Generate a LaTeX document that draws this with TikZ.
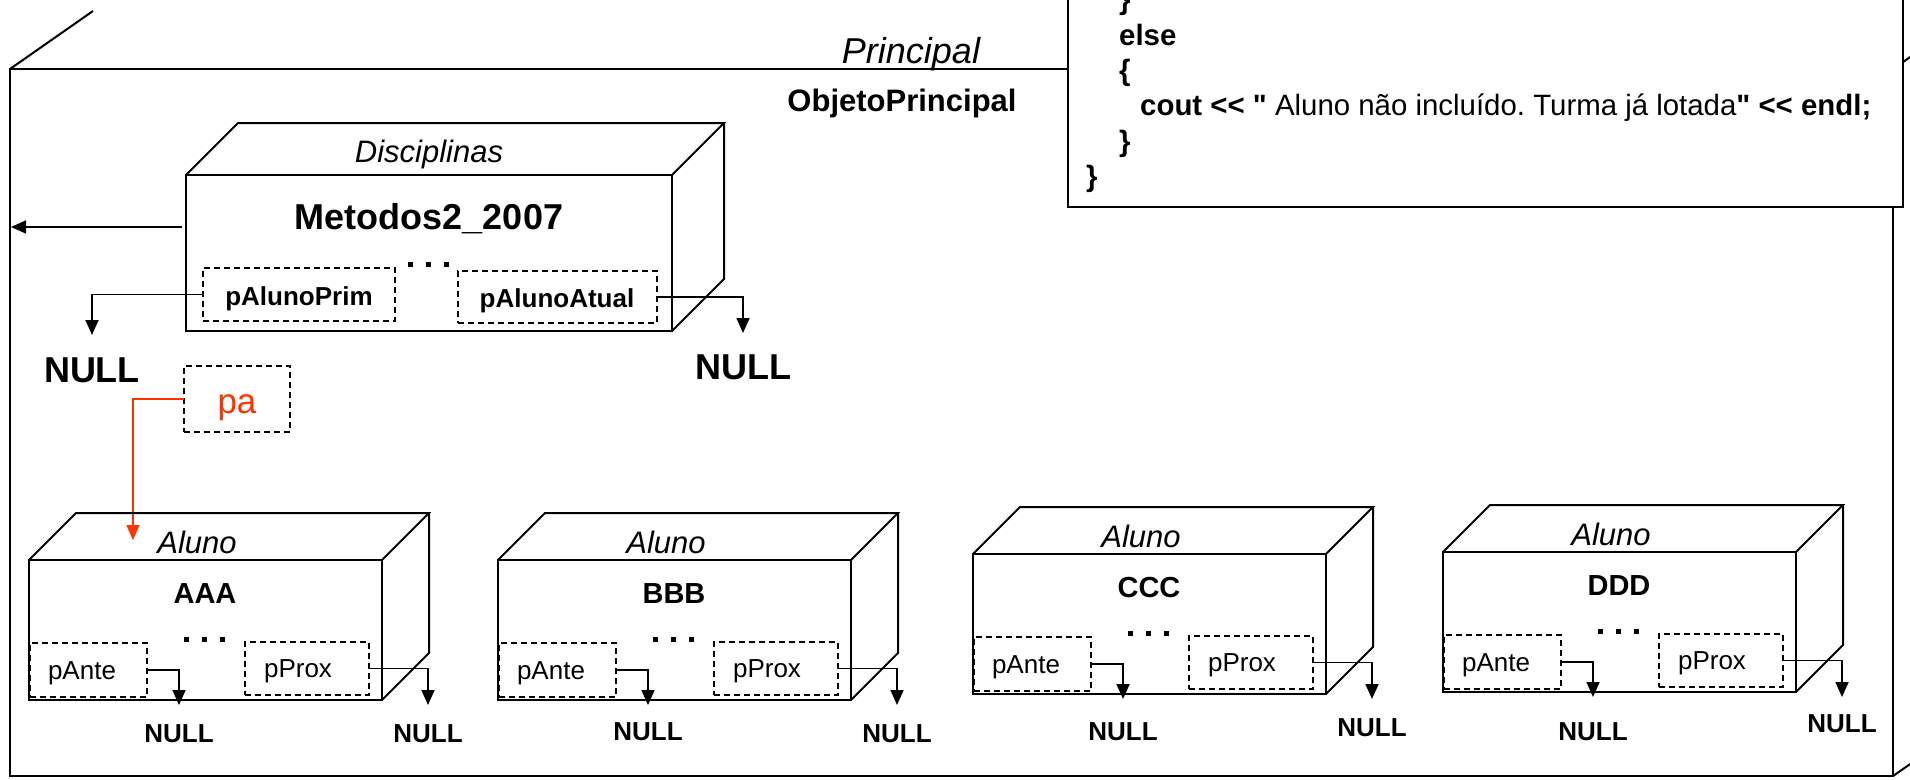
\documentclass[tikz,border=0pt]{standalone}
\usepackage{fontspec}
\setmainfont{Liberation Sans}[Ligatures=TeXOff]
\usetikzlibrary{arrows.meta}
\definecolor{redpa}{RGB}{255,51,0}
\newcommand\myfs[1]{\fontsize{#1}{#1}\selectfont}
\frenchspacing
\tikzset{
  cube/.style={line width=2pt, line join=miter},
  cubeface/.style={draw, line width=2pt, anchor=north west, inner sep=0pt, outer sep=0pt},
  fld/.style={draw, dash pattern=on 6pt off 4pt, line width=1.4pt, anchor=north west, inner sep=0pt, outer sep=0pt},
  ptr/.style={line width=1.7pt, -{Triangle[length=15pt,width=13pt]}},
  txt/.style={inner sep=0pt, anchor=base},
  codeln/.style={inner sep=0pt, anchor=base west, font=\myfs{29.4}\bfseries},
}
\newcommand\alunocube[6]{%
\begin{scope}[shift={(#2,#3)}, name prefix=#1-]
  \node[cubeface, minimum width=353, minimum height=140] (front) at (0,0) {};
  \draw[cube] (front.north west) -- ++(47,-47) -- ++(353,0) -- (front.north east);
  \draw[cube] (front.north east) ++(47,-47) -- ++(0,140) -- (front.south east);
  \node[txt, font=\myfs{31}\itshape] (cls) at (168,-7) {Aluno};
  \node[txt, font=\myfs{29}\bfseries] (name) at (176,43) {#4};
  \fill (155,77) rectangle ++(5,5);
  \fill (173,77) rectangle ++(5,5);
  \fill (191,77) rectangle ++(5,5);
  \node[fld, minimum width=117, minimum height=54] (ante) at (1,83) {};
  \node[txt, font=\myfs{26}] (anteT) at (53,119) {pAnte};
  \node[fld, minimum width=124, minimum height=53] (prox) at (216,82) {};
  \node[txt, font=\myfs{26}] (proxT) at (269,117) {pProx};
  \coordinate (anteTip) at (150,145);
  \coordinate (proxTip) at (399,145);
  \draw[ptr] (ante.east) -| (anteTip);
  \draw[ptr] (prox.east) -| (proxTip);
  \node[txt, font=\myfs{26}\bfseries] (nullA) at (150,#5) {NULL};
  \node[txt, font=\myfs{26}\bfseries] (nullP) at (399,#6) {NULL};
\end{scope}}
\begin{document}
\begin{tikzpicture}[x=1pt,y=-1pt]
\useasboundingbox (0,0) rectangle (1910,779);
\fill[white] (0,0) rectangle (1910,779);
% outer object
\node[cubeface, minimum width=1883, minimum height=707] (frame) at (10,69) {};
\draw[cube] (frame.north west) -- ++(83,-58);
\draw[cube] (frame.north east) -- ++(83,-58);
\draw[cube] (frame.south east) -- ++(30,-21);
\node[txt, font=\myfs{36}\itshape] (princ) at (911,63) {Principal};
\node[txt, font=\myfs{31}\bfseries] (objp) at (902,111) {ObjetoPrincipal};
% code box
\node[cubeface, fill=white, minimum width=835, minimum height=217] (code) at (1068,-10) {};
\node[codeln] (c1) at (1119,9.7) {\}};
\node[codeln] (c2) at (1119,45) {else};
\node[codeln] (c3) at (1119,80.3) {\{};
\node[codeln] (c4) at (1140,115.6) {cout << "{\mdseries{} Aluno não incluído. Turma já lotada}" << endl;};
\node[codeln] (c5) at (1119,151) {\}};
\node[codeln] (c6) at (1086,186) {\}};
% Disciplinas
\node[cubeface, minimum width=486, minimum height=156] (disc) at (186,175) {};
\draw[cube] (disc.north west) -- ++(52,-52) -- ++(486,0) -- (disc.north east);
\draw[cube] (disc.north east) ++(52,-52) -- ++(0,156) -- (disc.south east);
\node[txt, font=\myfs{31}\itshape] (discT) at (429,162) {Disciplinas};
\node[txt, font=\myfs{36}\bfseries] (discN) at (429,229) {Metodos2\_2007};
\fill (408,262) rectangle ++(5,5);
\fill (426,262) rectangle ++(5,5);
\fill (444,262) rectangle ++(5,5);
\node[fld, minimum width=192, minimum height=53] (pap) at (203,268) {};
\node[txt, font=\myfs{26}\bfseries] (papT) at (299,305) {pAlunoPrim};
\node[fld, minimum width=199, minimum height=52] (paa) at (458,271) {};
\node[txt, font=\myfs{26}\bfseries] (paaT) at (557,307) {pAlunoAtual};
\coordinate (discL) at (182,227);
\coordinate (frameL) at (11,227);
\draw[ptr] (discL) -- (frameL);
\coordinate (tipL) at (92,335);
\coordinate (tipR) at (743,333);
\draw[ptr] (pap.west) -| (tipL);
\draw[ptr] (paa.east) -| (tipR);
\node[txt, font=\myfs{36}\bfseries] (nullL) at (92,382) {NULL};
\node[txt, font=\myfs{36}\bfseries] (nullR) at (743,379) {NULL};
% pa
\node[fld, minimum width=106, minimum height=66] (pa) at (184,366) {};
\node[txt, font=\myfs{35}, text=redpa] (paT) at (237,413) {pa};
\coordinate (paTip) at (133,540);
\draw[ptr, redpa] (pa.west) -| (paTip);
% Aluno objects
\alunocube{a}{29}{560}{AAA}{182}{182}
\alunocube{b}{498}{560}{BBB}{180}{182}
\alunocube{c}{973}{554}{CCC}{186}{182}
\alunocube{d}{1443}{552}{DDD}{188}{180}
\end{tikzpicture}
\end{document}
